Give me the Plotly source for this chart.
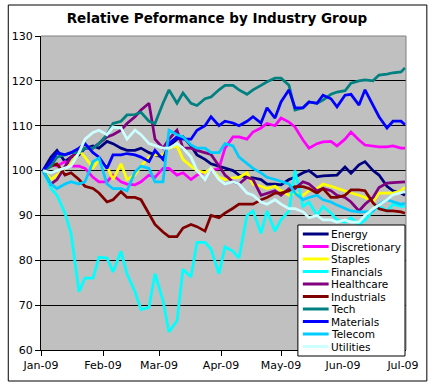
import plotly.graph_objects as go

# ---------------- data ----------------
dates = ["2009-01-02", "2009-01-06", "2009-01-09", "2009-01-13", "2009-01-16", "2009-01-20",
         "2009-01-23", "2009-01-27", "2009-01-30", "2009-02-03", "2009-02-06", "2009-02-10",
         "2009-02-13", "2009-02-17", "2009-02-20", "2009-02-24", "2009-02-27", "2009-03-03",
         "2009-03-06", "2009-03-10", "2009-03-13", "2009-03-17", "2009-03-20", "2009-03-24",
         "2009-03-27", "2009-03-31", "2009-04-03", "2009-04-07", "2009-04-10", "2009-04-14",
         "2009-04-17", "2009-04-21", "2009-04-24", "2009-04-28", "2009-05-01", "2009-05-05",
         "2009-05-08", "2009-05-12", "2009-05-15", "2009-05-19", "2009-05-22", "2009-05-26",
         "2009-05-29", "2009-06-02", "2009-06-05", "2009-06-09", "2009-06-12", "2009-06-16",
         "2009-06-19", "2009-06-23", "2009-06-26", "2009-06-30", "2009-07-02"]

energy = [100, 103, 104.5, 102, 103, 103.5, 105, 105.5, 105, 106.5, 106, 105, 104.5, 104.5,
          105, 104, 103.5, 103, 105.5, 107, 107.5, 105.5, 103.5, 102.5, 101.5, 101, 100.5,
          100, 99, 98.5, 98.4, 98, 97, 97, 96.8, 98, 98.5, 99.5, 100, 98.6, 98.8, 99, 99,
          100.8, 99.4, 101.3, 102, 100, 99, 96.5, 95.5, 95, 94.5]
discretionary = [100, 101.5, 101, 102, 101, 101, 100.5, 98.5, 97.5, 97.5, 99, 97.5, 97, 96.8,
                 97.5, 99, 98.5, 100.5, 100.5, 99, 99.5, 98, 99, 99.5, 100, 100.5, 105, 107.5,
                 107.5, 107, 108.6, 109.5, 110.5, 110, 111.7, 110.8, 109.7, 106.8, 105, 106,
                 106.4, 106.5, 105.5, 107, 108.6, 106.8, 105.7, 105.5, 105.3, 105.3, 105.5,
                 105, 105]
staples = [100, 98, 99, 100.5, 101.5, 104.5, 103, 100.6, 102.5, 101, 98, 101.5, 98, 99, 101,
           103, 103.5, 103.5, 105, 105.5, 102.5, 101, 100, 99.5, 100.5, 98.5, 98, 98.4, 98.5,
           99.5, 97, 96.5, 96, 96.5, 95.5, 94.5, 95, 94.5, 95.5, 96, 97, 96.5, 96, 95.5, 95,
           94.5, 94, 93, 95, 95, 95, 95.5, 96.3]
financials = [100, 96, 94.5, 90.5, 86, 73, 76, 76, 80.7, 80.5, 77.4, 82, 77, 73, 69, 69.5, 77,
              71, 64, 66.5, 78, 76.3, 84, 84, 82.5, 77, 83, 82, 80.5, 90, 91, 86, 91, 86.5,
              89, 91, 100, 92, 93, 90, 92, 90.5, 89, 88.5, 89.5, 88, 89, 91, 92, 91, 92.5, 92,
              92]
healthcare = [100, 97, 98, 101, 103, 104.5, 105, 105, 106, 107.5, 108, 109, 110.5, 112, 113.5,
              115, 107, 105, 107, 109, 105, 105, 104.5, 104, 103.6, 101, 99, 97.5, 97, 98.5,
              98, 94.5, 95, 95.5, 94.5, 96, 96, 97.5, 97, 95.5, 96, 95.5, 94.5, 94, 93, 91,
              92.5, 94, 96.2, 97.2, 97.3, 97.5, 97.5]
industrials = [100, 101, 101.5, 99, 99.5, 98, 96.5, 96, 95, 93, 93.5, 95.3, 94, 94, 93.5, 90.5,
               88, 86.3, 85.3, 85.3, 87.2, 88, 87.5, 86.5, 90, 89.5, 90.5, 91.6, 92.5, 92.5,
               92.5, 93.5, 94, 95, 95, 95.5, 96.4, 96.4, 96, 95, 96, 94, 94, 94.5, 95.7, 95.7,
               95.5, 92.8, 91.5, 91, 91, 90.8, 90.5]
tech = [100, 101, 103, 103.5, 104, 104, 105, 105, 106, 108, 110.5, 111, 112.4, 112.5, 113, 111,
        110.5, 115, 118, 115, 117.3, 115, 114.5, 116, 116.4, 118, 119, 119, 118, 117, 118, 119,
        119.8, 120.6, 120.6, 119, 113.5, 114, 115.3, 115, 115.7, 117, 117.5, 117.8, 119.5, 120,
        120.2, 120, 121.3, 121.5, 121.8, 122, 122.9]
materials = [100, 102, 104, 103.5, 104, 105, 106, 104, 103, 100.5, 103.5, 103.5, 103.8, 103.5,
             103, 102, 104.5, 102.5, 106, 107.5, 107, 107, 109, 110, 112, 110, 111, 110.6, 110,
             111, 112, 110.6, 114, 111.7, 115.3, 118, 114, 114, 115.3, 115, 116.8, 116, 114.2,
             116.8, 117, 114.6, 118, 114.5, 112, 109.5, 111, 111, 110.2]
telecom = [100, 97, 96, 97, 97.5, 97, 97.5, 102, 102.8, 97, 96, 96, 95.5, 99.7, 101, 100.5, 97.5,
           97.5, 109, 108, 107.5, 105.7, 105, 105, 104, 104, 106, 105.5, 103, 101.5, 100.5,
           99.5, 98.5, 98, 97.5, 97, 95, 93.5, 94, 94.5, 93.5, 93, 92.3, 91.5, 91, 90.8, 90.8,
           91, 92.5, 93.5, 93, 92.5, 92.7]
utilities = [100, 99.5, 100, 100.5, 101, 104, 107, 108.5, 109, 108, 109.7, 109.5, 107, 109, 108,
             106, 105.5, 105, 105, 106, 105, 103, 100, 98, 100.5, 98, 97, 97.5, 97, 95, 94.5,
             93, 92.5, 93.5, 92.5, 91.5, 91.5, 90.8, 89.5, 90, 89, 89, 88.5, 89, 88.5, 88.5, 90,
             91.5, 92.3, 93.5, 94.6, 95, 95.3]

series_names = ["Energy", "Discretionary", "Staples", "Financials", "Healthcare",
                "Industrials", "Tech", "Materials", "Telecom", "Utilities"]
series_values = [energy, discretionary, staples, financials, healthcare,
                 industrials, tech, materials, telecom, utilities]
series_colors = ["#000080", "#FF00FF", "#FFFF00", "#00FFFF", "#800080",
                 "#800000", "#008080", "#0000FF", "#00CCFF", "#CCFFFF"]

title_text = "Relative Peformance by Industry Group"

# ---------------- figure ----------------
W, H = 434, 387
L, R, T, B = 38, 28, 36, 37
pw, ph = W - L - R, H - T - B


def px(x):
    return (x - L) / pw


def py(y):
    return (H - B - y) / ph


FONT = "'DejaVu Sans', Verdana, sans-serif"

fig = go.Figure()
for name, vals, col in zip(series_names, series_values, series_colors):
    fig.add_trace(go.Scatter(x=dates, y=vals, mode="lines", name=name,
                             line=dict(color=col, width=2.75),
                             showlegend=False, hoverinfo="skip"))

shapes = []
annotations = []
# outer chart border
shapes.append(dict(type="rect", xref="paper", yref="paper",
                   x0=px(5), x1=px(427), y0=py(381), y1=py(5),
                   line=dict(color="black", width=1), fillcolor="rgba(0,0,0,0)"))
# plot area top and right border (gray)
shapes.append(dict(type="line", xref="paper", yref="paper", x0=0, x1=1, y0=1, y1=1,
                   line=dict(color="#808080", width=1)))
shapes.append(dict(type="line", xref="paper", yref="paper", x0=1, x1=1, y0=0, y1=1,
                   line=dict(color="#808080", width=1)))
# custom legend box
LEG_TOP, LEG_BOT = 225, 356
shapes.append(dict(type="rect", xref="paper", yref="paper",
                   x0=px(297), x1=px(405), y0=py(LEG_BOT), y1=py(LEG_TOP),
                   line=dict(color="black", width=1), fillcolor="white", layer="above"))
for i, (name, col) in enumerate(zip(series_names, series_colors)):
    yc = LEG_TOP + 9 + i * 12.5
    shapes.append(dict(type="line", xref="paper", yref="paper",
                       x0=px(302), x1=px(328), y0=py(yc), y1=py(yc),
                       line=dict(color=col, width=3), layer="above"))
    annotations.append(dict(text=name, xref="paper", yref="paper",
                            x=px(329), y=py(yc), xanchor="left", yanchor="middle",
                            showarrow=False, borderpad=0,
                            font=dict(family=FONT, size=10.5, color="black")))

fig.update_layout(
    width=W, height=H,
    margin=dict(l=L, r=R, t=T, b=B, pad=0),
    paper_bgcolor="white",
    plot_bgcolor="#C0C0C0",
    font=dict(family=FONT, size=11, color="black"),
    title=dict(text=title_text, x=0.5, xref="container", xanchor="center",
               y=1 - 18 / H, yref="container", yanchor="middle",
               font=dict(family=FONT, size=13.5, color="black", weight="bold")),
    xaxis=dict(type="date", range=["2009-01-01", "2009-07-02 12:00"],
               tick0="2009-01-01", dtick="M1", tickformat="%b-%y",
               ticks="outside", ticklen=5, tickcolor="black", tickwidth=1,
               showline=True, linecolor="black", linewidth=1,
               showgrid=False, zeroline=False,
               tickfont=dict(family=FONT, size=11, color="black")),
    yaxis=dict(range=[60, 130], tick0=60, dtick=10,
               ticks="outside", ticklen=5, tickcolor="black", tickwidth=1,
               showline=True, linecolor="black", linewidth=1,
               showgrid=True, gridcolor="black", gridwidth=1, zeroline=False,
               tickfont=dict(family=FONT, size=11, color="black")),
    shapes=shapes,
    annotations=annotations,
)

fig.write_html("out.html",
               config={"displayModeBar": False},
               post_script="document.body.style.margin='0';document.body.style.padding='0';")
